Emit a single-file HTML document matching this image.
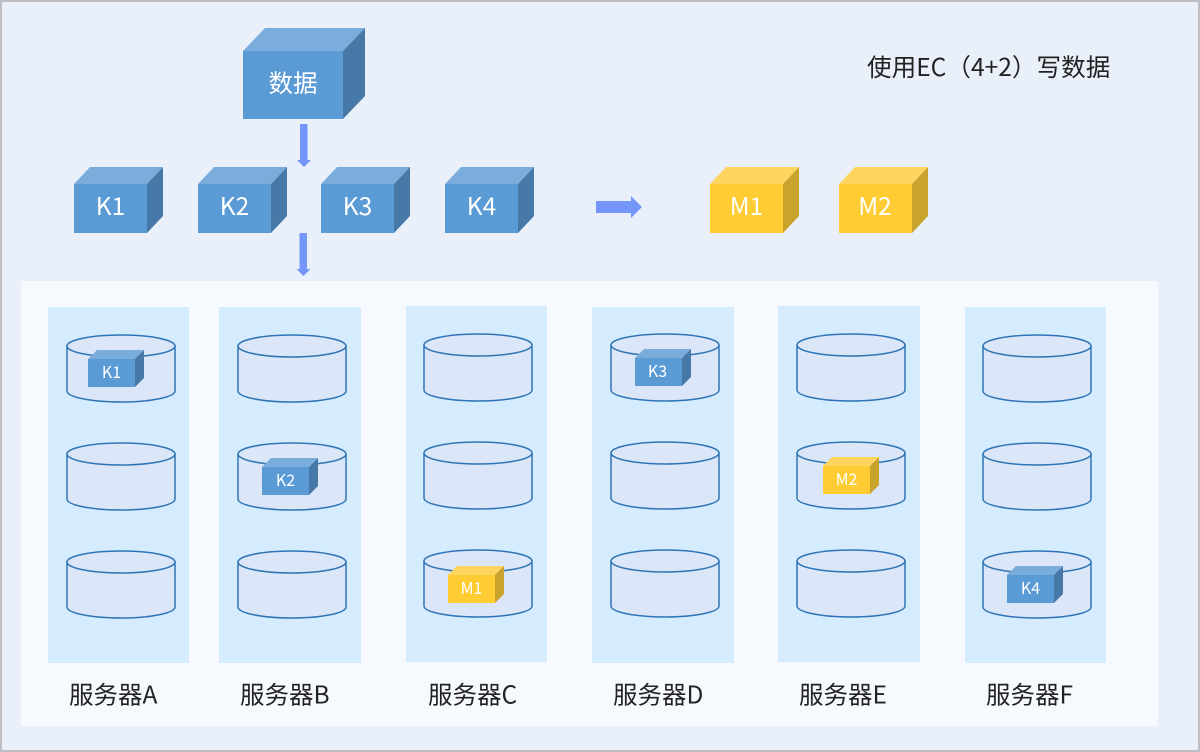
<!DOCTYPE html>
<html><head><meta charset="utf-8"><style>
html,body{margin:0;padding:0;background:#e9f0fa}
svg{display:block}
text{font-family:"Noto Sans CJK SC","Liberation Sans",sans-serif}
</style></head><body>
<svg width="1200" height="752" viewBox="0 0 1200 752" xmlns="http://www.w3.org/2000/svg">
<defs>
<g id="cyl">
<path d="M0 11V56C0 62 24 67 54 67S108 62 108 56V11Z" fill="#dce6f9" stroke="#2f75b5" stroke-width="1.5"/>
<ellipse cx="54" cy="11" rx="54" ry="11" fill="#dce6f9" stroke="#2f75b5" stroke-width="1.5"/>
</g>
<g id="kb"><path d="M0 17L16 0H89L73 17Z" fill="#7aaddc"/><rect y="17" width="73" height="49" fill="#5b9bd5"/><path d="M73 17L89 0V49L73 66Z" fill="#4679a8"/></g>
<g id="mb"><path d="M0 17L16 0H89L73 17Z" fill="#ffd55f"/><rect y="17" width="73" height="49" fill="#ffcc33"/><path d="M73 17L89 0V49L73 66Z" fill="#c9a42c"/></g>
<g id="ks"><path d="M0 9L9 0H56L47 9Z" fill="#7aaddc"/><rect y="9" width="47" height="28" fill="#5b9bd5"/><path d="M47 9L56 0V28L47 37Z" fill="#4679a8"/></g>
<g id="ms"><path d="M0 9L9 0H56L47 9Z" fill="#ffd55f"/><rect y="9" width="47" height="28" fill="#ffcc33"/><path d="M47 9L56 0V28L47 37Z" fill="#c9a42c"/></g>
</defs>
<rect x="1" y="1" width="1198" height="750" fill="#e9f0fa" stroke="#bfbfc2" stroke-width="2"/>
<rect x="21" y="281" width="1137" height="445" fill="#f6f9fe"/>

<rect x="48" y="307" width="141" height="356" fill="#d4ecfd"/>
<rect x="219" y="307" width="142" height="356" fill="#d4ecfd"/>
<rect x="406" y="306" width="141" height="356" fill="#d4ecfd"/>
<rect x="592" y="307" width="142" height="356" fill="#d4ecfd"/>
<rect x="778" y="306" width="142" height="356" fill="#d4ecfd"/>
<rect x="965" y="307" width="141" height="356" fill="#d4ecfd"/>

<use href="#cyl" x="67" y="335"/><use href="#cyl" x="67" y="443"/><use href="#cyl" x="67" y="551"/>
<use href="#cyl" x="238" y="335"/><use href="#cyl" x="238" y="443"/><use href="#cyl" x="238" y="551"/>
<use href="#cyl" x="424" y="334"/><use href="#cyl" x="424" y="442"/><use href="#cyl" x="424" y="550"/>
<use href="#cyl" x="611" y="334"/><use href="#cyl" x="611" y="442"/><use href="#cyl" x="611" y="550"/>
<use href="#cyl" x="797" y="334"/><use href="#cyl" x="797" y="442"/><use href="#cyl" x="797" y="550"/>
<use href="#cyl" x="983" y="335"/><use href="#cyl" x="983" y="443"/><use href="#cyl" x="983" y="551"/>

<!-- big data cube -->
<path d="M243 51L265 28H365L343 51Z" fill="#7aaddc"/>
<rect x="243" y="51" width="100" height="68" fill="#5b9bd5"/>
<path d="M343 51L365 28V96L343 119Z" fill="#4679a8"/>
<text x="293" y="92" font-size="24.5" fill="#fff" text-anchor="middle">数据</text>

<path d="M300 124H307.500V160H311L304 167L297 160H300Z" fill="#7496fb"/>
<path d="M299.500 233H307V269H310.500L303.500 276L296.500 269H299.500Z" fill="#7496fb"/>
<path d="M596 201H631V196L642 207L631 218V213H596Z" fill="#7496fb"/>

<use href="#kb" x="74" y="167"/><use href="#kb" x="198" y="167"/><use href="#kb" x="321" y="167"/><use href="#kb" x="445" y="167"/>
<use href="#mb" x="710" y="167"/><use href="#mb" x="839" y="167"/>
<g font-size="24.5" fill="#fff" text-anchor="middle">
<text x="110.500" y="215">K1</text><text x="234.500" y="215">K2</text><text x="357.500" y="215">K3</text><text x="481.500" y="215">K4</text>
<text x="746.500" y="215">M1</text><text x="875" y="215">M2</text>
</g>

<use href="#ks" x="88" y="350"/><use href="#ks" x="262" y="458"/><use href="#ms" x="448" y="566"/>
<use href="#ks" x="635" y="349"/><use href="#ms" x="823" y="457"/><use href="#ks" x="1007" y="566"/>
<g font-size="16" fill="#fff" text-anchor="middle">
<text x="111.500" y="378">K1</text><text x="285.500" y="486">K2</text><text x="471.500" y="594">M1</text>
<text x="657.500" y="377">K3</text><text x="846.500" y="485">M2</text><text x="1030.500" y="594">K4</text>
</g>

<text x="867" y="76" font-size="24.6" fill="#222">使用EC（4+2）写数据</text>
<g font-size="24.5" fill="#222">
<text x="69" y="703.500">服务器A</text><text x="240" y="703.500">服务器B</text><text x="428" y="703.500">服务器C</text>
<text x="613" y="703.500">服务器D</text><text x="799" y="703.500">服务器E</text><text x="986" y="703.500">服务器F</text>
</g>
</svg>
</body></html>
